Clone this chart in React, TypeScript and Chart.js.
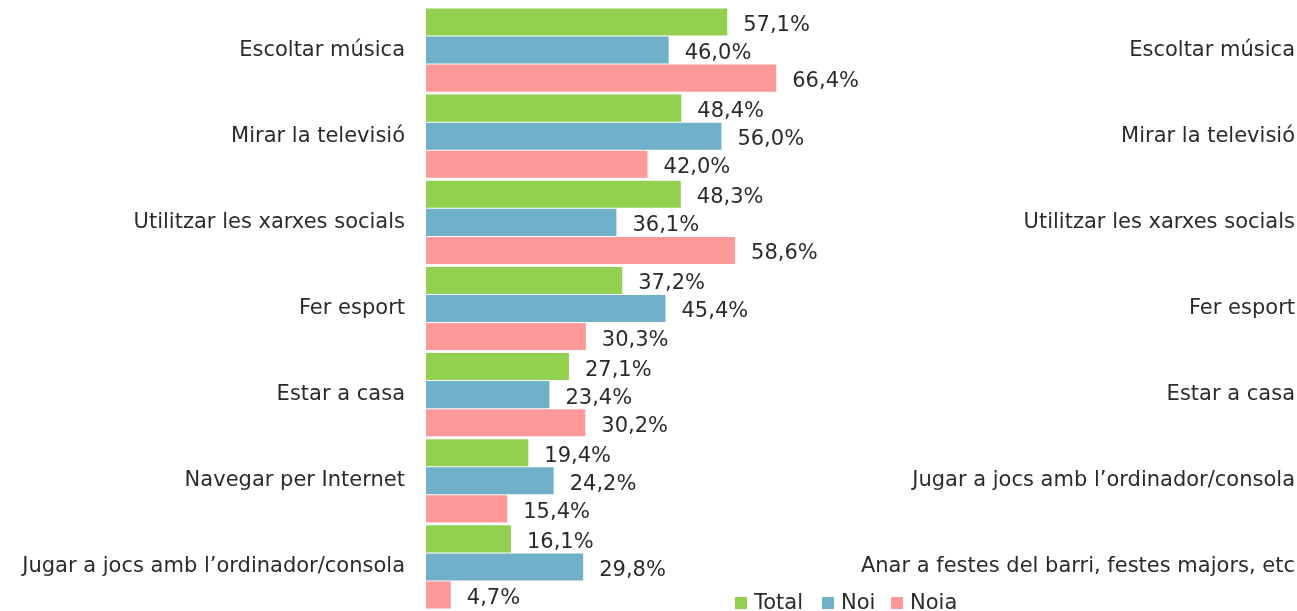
import React, { useEffect, useRef } from "react";
import { Chart, registerables } from "chart.js";

Chart.register(...registerables);

const leftLabels = [
  "Escoltar música",
  "Mirar la televisió",
  "Utilitzar les xarxes socials",
  "Fer esport",
  "Estar a casa",
  "Navegar per Internet",
  "Jugar a jocs amb l’ordinador/consola",
];

const rightLabels = [
  "Escoltar música",
  "Mirar la televisió",
  "Utilitzar les xarxes socials",
  "Fer esport",
  "Estar a casa",
  "Jugar a jocs amb l’ordinador/consola",
  "Anar a festes del barri, festes majors, etc",
];

const totalValues = [57.1, 48.4, 48.3, 37.2, 27.1, 19.4, 16.1];
const noiValues = [46.0, 56.0, 36.1, 45.4, 23.4, 24.2, 29.8];
const noiaValues = [66.4, 42.0, 58.6, 30.3, 30.2, 15.4, 4.7];

const seriesNames = ["Total", "Noi", "Noia"];
const seriesColors = ["#92D050", "#70B0C8", "#FF9999"];
const legendLefts = [735, 822, 891];

const FONT = "'DejaVu Sans', Verdana, sans-serif";
const FONT_SIZE = 21;
const TEXT_COLOR = "#2b2b2b";

const valueLabelPlugin = {
  id: "valueLabels",
  afterDatasetsDraw(chart: any) {
    const ctx = chart.ctx;
    ctx.save();
    ctx.font = `${FONT_SIZE}px ${FONT}`;
    ctx.fillStyle = TEXT_COLOR;
    ctx.textAlign = "left";
    ctx.textBaseline = "middle";
    chart.data.datasets.forEach((ds: any, di: number) => {
      const meta = chart.getDatasetMeta(di);
      meta.data.forEach((el: any, i: number) => {
        const v = ds.data[i] as number;
        const txt = v.toFixed(1).replace(".", ",") + "%";
        ctx.fillText(txt, el.x + 16, el.y + 3.5);
      });
    });
    ctx.restore();
  },
};

export default function App() {
  const canvasRef = useRef<HTMLCanvasElement | null>(null);

  useEffect(() => {
    if (!canvasRef.current) return;
    const values = [totalValues, noiValues, noiaValues];
    const chart = new Chart(canvasRef.current, {
      type: "bar",
      data: {
        labels: leftLabels,
        datasets: seriesNames.map((name, i) => ({
          label: name,
          data: values[i],
          backgroundColor: seriesColors[i],
          borderWidth: 0,
          barPercentage: 0.965,
          categoryPercentage: 0.977,
          yAxisID: "y",
        })),
      },
      options: {
        indexAxis: "y",
        animation: false,
        responsive: true,
        maintainAspectRatio: false,
        layout: { padding: { top: 7, bottom: 1, left: 0, right: 2 } },
        plugins: {
          legend: { display: false },
          tooltip: { enabled: false },
        },
        scales: {
          x: {
            display: false,
            min: 0,
            max: 80,
          },
          y: {
            type: "category",
            position: "left",
            offset: true,
            grid: { display: false },
            border: { display: false },
            afterFit: (scale: any) => {
              scale.width = 426;
              scale.paddingTop = 0;
              scale.paddingBottom = 0;
            },
            ticks: {
              padding: 13,
              color: TEXT_COLOR,
              font: { family: FONT, size: FONT_SIZE },
            },
          },
          y2: {
            type: "category",
            position: "right",
            offset: true,
            labels: rightLabels,
            grid: { display: false },
            border: { display: false },
            afterFit: (scale: any) => {
              scale.width = 447;
              scale.paddingTop = 0;
              scale.paddingBottom = 0;
            },
            ticks: {
              padding: 2,
              crossAlign: "far",
              color: TEXT_COLOR,
              font: { family: FONT, size: FONT_SIZE },
            },
          },
        },
      },
      plugins: [valueLabelPlugin],
    } as any);
    return () => chart.destroy();
  }, []);

  return (
    <div style={{ position: "fixed", left: 0, top: 0, width: 1297, height: 611, background: "#fff", overflow: "hidden" }}>
      <canvas ref={canvasRef} />
      {seriesNames.map((n, i) => (
        <div
          key={n}
          style={{
            position: "absolute",
            left: legendLefts[i],
            top: 590,
            display: "flex",
            alignItems: "flex-start",
            fontFamily: FONT,
            fontSize: FONT_SIZE,
            lineHeight: "24px",
            color: TEXT_COLOR,
            whiteSpace: "nowrap",
          }}
        >
          <div style={{ width: 12, height: 12, background: seriesColors[i], marginTop: 7, marginRight: 7 }} />
          <span>{n}</span>
        </div>
      ))}
    </div>
  );
}
